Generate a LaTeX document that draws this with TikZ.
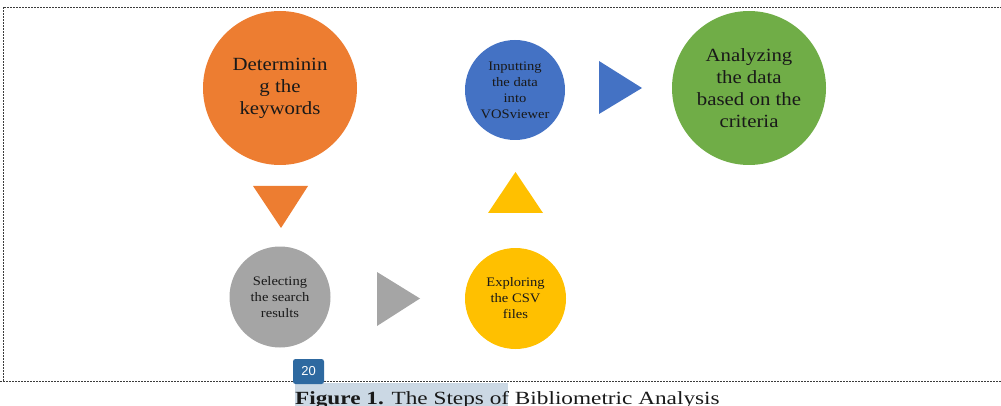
\documentclass[tikz,border=0pt]{standalone}
\usepackage{fontspec}
\usepackage{xcolor}
\usepackage{tikz}
\usetikzlibrary{shapes,arrows,positioning,calc}
\setmainfont{Liberation Serif}[FakeStretch=1.12]
\newfontfamily\capfont{Liberation Serif}[FakeStretch=1.25]
\newfontfamily\badgefont{Liberation Sans}

\definecolor{orangeC}{HTML}{ED7D31}
\definecolor{grayC}{HTML}{A5A5A5}
\definecolor{yellowC}{HTML}{FFC000}
\definecolor{blueC}{HTML}{4472C4}
\definecolor{greenC}{HTML}{70AD47}
\definecolor{badgeC}{RGB}{46,105,160}
\definecolor{markC}{RGB}{203,216,228}
\definecolor{frameC}{RGB}{60,60,60}

\tikzset{
    stepcircle/.style={circle, inner sep=0pt, text=black!90, align=center},
    bigtext/.style={font=\fontsize{18.6}{22}\selectfont},
    smalltext/.style={font=\fontsize{13}{16}\selectfont},
    framelines/.style={frameC, line width=0.9pt, dash pattern=on 2pt off 1pt}
}

\begin{document}
\begin{tikzpicture}[x=1pt, y=-1pt]
    \useasboundingbox (0,0) rectangle (1001,406);
    % frame
    \draw[framelines] (3,381) -- (3,7) -- (1001,7);
    \draw[framelines] (0,381) -- (1001,381);

    % steps
    \node (keywords) at (280,88) [stepcircle, fill=orangeC, minimum size=154pt, bigtext]
          {Determinin\\g the\\keywords};
    \node (selecting) at (280,297) [stepcircle, fill=grayC, minimum size=101pt, smalltext]
          {Selecting\\the search\\results};
    \node (exploring) at (515.5,298.5) [stepcircle, fill=yellowC, minimum size=101pt, smalltext]
          {Exploring\\the CSV\\files};
    \node (inputting) at (515,90) [stepcircle, fill=blueC, minimum size=100pt, smalltext]
          {Inputting\\the data\\into\\VOSviewer};
    \node (analyzing) at (749,88) [stepcircle, fill=greenC, minimum size=154pt, bigtext]
          {Analyzing\\the data\\based on the\\criteria};

    % triangles between the steps
    \fill[orangeC] (253,186) -- (308,186) -- (281,228) -- cycle;
    \fill[grayC] (377,272) -- (420,298.5) -- (377,326) -- cycle;
    \fill[yellowC] (488,213) -- (515.5,172) -- (543,213) -- cycle;
    \fill[blueC] (599,61) -- (642,88) -- (599,114) -- cycle;

    % caption
    \fill[markC] (295,383) rectangle (508,406);
    \node (badge) at (308.5,371.5) [fill=badgeC, rounded corners=2.5pt, minimum width=31pt,
          minimum height=25pt, inner sep=0pt, text=white, font=\badgefont\fontsize{13}{13}\selectfont] {20};
    \node (caption) at (295,404) [anchor=base west, inner sep=0pt, text=black!90,
          font=\capfont\fontsize{18.6}{20}\selectfont]
          {\textbf{Figure 1.} The Steps of Bibliometric Analysis};
\end{tikzpicture}
\end{document}
